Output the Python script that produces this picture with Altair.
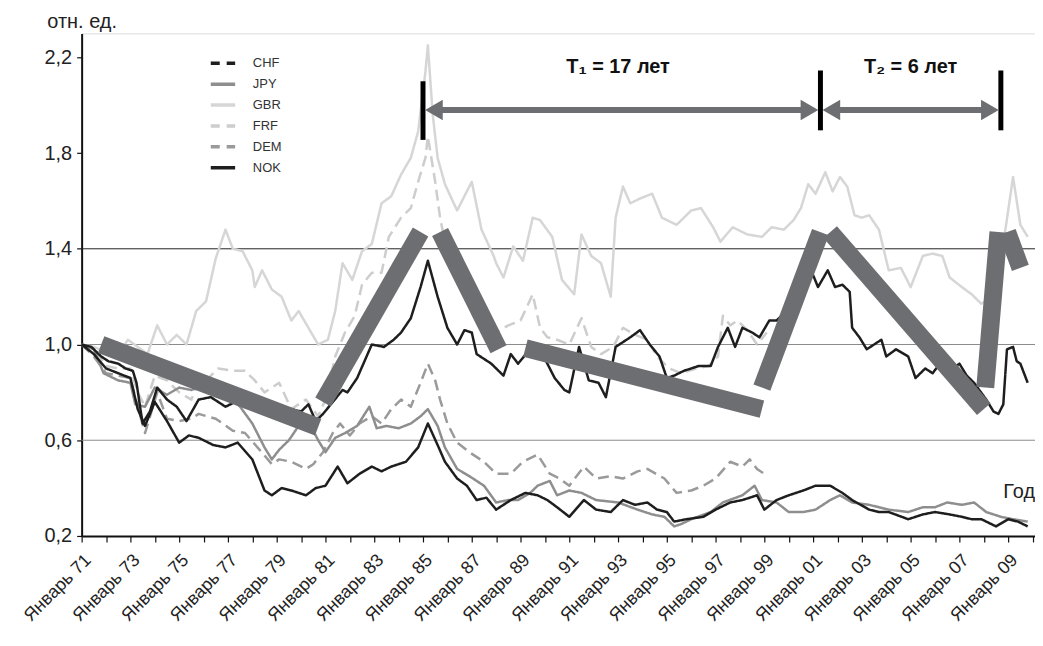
import altair as alt
import pandas as pd

FONT = "Liberation Sans"

series_names = ["GBR", "FRF", "DEM", "JPY", "CHF", "NOK"]
legend_order = ["CHF", "JPY", "GBR", "FRF", "DEM", "NOK"]
legend_colors = ["#1e1e1e", "#8e8e8e", "#d6d6d6", "#cdcdcd", "#9a9a9a", "#1e1e1e"]
plot_dash = [[1, 0], [1, 0], [1, 0], [11, 6], [11, 6], [1, 0]]
legend_dash = [[9, 7], [1, 0], [1, 0], [9, 7], [9, 7], [1, 0]]

chf = [(1971.0, 1.00), (1971.5, 0.96), (1972.0, 0.90), (1972.5, 0.88), (1973.0, 0.86), (1973.3, 0.73),
       (1973.6, 0.66), (1974.0, 0.76), (1974.5, 0.68), (1975.0, 0.59), (1975.4, 0.62), (1975.8, 0.61),
       (1976.4, 0.58), (1976.9, 0.57), (1977.4, 0.59), (1978.0, 0.52), (1978.5, 0.39), (1978.8, 0.37),
       (1979.2, 0.40), (1979.6, 0.39), (1980.2, 0.37), (1980.6, 0.40), (1981.0, 0.41), (1981.5, 0.49),
       (1981.9, 0.42), (1982.4, 0.46), (1982.9, 0.49), (1983.3, 0.47), (1983.7, 0.49), (1984.3, 0.51),
       (1984.8, 0.57), (1985.2, 0.67), (1985.6, 0.58), (1985.9, 0.51), (1986.4, 0.44), (1986.8, 0.41),
       (1987.2, 0.35), (1987.6, 0.36), (1988.0, 0.31), (1988.6, 0.35), (1989.2, 0.38), (1989.7, 0.37),
       (1990.1, 0.35), (1990.5, 0.32), (1991.0, 0.28), (1991.6, 0.35), (1992.1, 0.31), (1992.7, 0.30),
       (1993.2, 0.35), (1993.7, 0.33), (1994.2, 0.34), (1994.6, 0.31), (1995.0, 0.30), (1995.3, 0.26),
       (1995.8, 0.27), (1996.5, 0.28), (1997.0, 0.31), (1997.6, 0.34), (1998.1, 0.35), (1998.7, 0.37),
       (1999.0, 0.31), (1999.5, 0.35), (2000.0, 0.37), (2000.6, 0.39), (2001.1, 0.41), (2001.7, 0.41),
       (2002.2, 0.38), (2002.6, 0.35), (2003.3, 0.31), (2003.7, 0.30), (2004.1, 0.30), (2004.9, 0.27),
       (2005.5, 0.29), (2006.0, 0.30), (2006.6, 0.29), (2007.1, 0.28), (2007.5, 0.27), (2007.9, 0.27),
       (2008.5, 0.24), (2009.0, 0.27), (2009.4, 0.26), (2009.8, 0.24)]

nok = [(1971.0, 1.00), (1971.4, 0.99), (1971.8, 0.95), (1972.1, 0.93), (1972.5, 0.92), (1972.8, 0.90),
       (1973.1, 0.89), (1973.25, 0.84), (1973.5, 0.67), (1973.8, 0.72), (1974.1, 0.82), (1974.5, 0.77),
       (1974.9, 0.74), (1975.3, 0.68), (1975.8, 0.77), (1976.3, 0.78), (1976.9, 0.74), (1977.3, 0.76),
       (1977.7, 0.77), (1978.1, 0.74), (1978.5, 0.75), (1979.0, 0.72), (1979.6, 0.73), (1980.0, 0.72),
       (1980.3, 0.75), (1980.6, 0.68), (1980.9, 0.71), (1981.3, 0.76), (1981.7, 0.81), (1981.9, 0.80),
       (1982.3, 0.86), (1982.9, 1.00), (1983.4, 0.99), (1983.8, 1.02), (1984.1, 1.05), (1984.5, 1.11),
       (1984.9, 1.24), (1985.2, 1.35), (1985.6, 1.20), (1986.0, 1.07), (1986.4, 1.00), (1986.7, 1.06),
       (1987.0, 1.05), (1987.2, 0.96), (1987.8, 0.92), (1988.3, 0.87), (1988.6, 0.96), (1988.9, 0.92),
       (1989.3, 0.97), (1989.6, 1.00), (1990.0, 0.94), (1990.4, 0.86), (1990.8, 0.81), (1991.0, 0.80),
       (1991.4, 0.99), (1991.8, 0.85), (1992.2, 0.84), (1992.5, 0.78), (1992.9, 0.99), (1993.5, 1.03),
       (1993.9, 1.06), (1994.3, 1.00), (1994.7, 0.95), (1995.0, 0.86), (1995.3, 0.87), (1995.7, 0.89),
       (1996.3, 0.91), (1996.8, 0.91), (1997.1, 0.99), (1997.5, 1.07), (1997.8, 0.99), (1998.1, 1.07),
       (1998.5, 1.05), (1998.8, 1.03), (1999.2, 1.10), (1999.5, 1.10), (2000.0, 1.15), (2000.5, 1.24),
       (2001.0, 1.29), (2001.2, 1.24), (2001.6, 1.31), (2001.9, 1.24), (2002.2, 1.25), (2002.5, 1.22),
       (2002.6, 1.07), (2002.9, 1.03), (2003.2, 0.98), (2003.5, 1.00), (2003.8, 1.02), (2004.0, 0.95),
       (2004.4, 0.98), (2004.9, 0.95), (2005.2, 0.86), (2005.6, 0.90), (2005.9, 0.88), (2006.2, 0.92),
       (2006.6, 0.89), (2007.0, 0.92), (2007.3, 0.87), (2007.6, 0.84), (2008.1, 0.77), (2008.4, 0.72),
       (2008.6, 0.71), (2008.8, 0.75), (2008.95, 0.98), (2009.2, 0.99), (2009.35, 0.93), (2009.5, 0.92),
       (2009.8, 0.84)]

gbr = [(1971.0, 1.00), (1971.5, 0.99), (1972.0, 0.97), (1972.5, 0.96), (1972.9, 1.02), (1973.3, 0.99),
       (1973.7, 0.96), (1974.1, 1.08), (1974.5, 1.00), (1974.9, 1.04), (1975.3, 1.00), (1975.7, 1.14),
       (1976.1, 1.18), (1976.5, 1.36), (1976.9, 1.48), (1977.2, 1.40), (1977.6, 1.39), (1978.0, 1.31),
       (1978.1, 1.24), (1978.4, 1.31), (1978.8, 1.23), (1979.2, 1.20), (1979.6, 1.10), (1979.9, 1.14),
       (1980.3, 1.07), (1980.7, 1.00), (1981.1, 1.02), (1981.4, 1.14), (1981.7, 1.34), (1982.1, 1.27),
       (1982.5, 1.39), (1982.9, 1.42), (1983.3, 1.59), (1983.7, 1.62), (1984.1, 1.71), (1984.5, 1.78),
       (1984.8, 1.89), (1985.1, 2.14), (1985.2, 2.25), (1985.4, 1.96), (1985.6, 1.78), (1985.9, 1.67),
       (1986.4, 1.56), (1987.0, 1.68), (1987.4, 1.48), (1987.9, 1.37), (1988.0, 1.34), (1988.3, 1.28),
       (1988.7, 1.41), (1989.1, 1.35), (1989.5, 1.53), (1989.8, 1.52), (1990.3, 1.45), (1990.7, 1.27),
       (1991.2, 1.21), (1991.5, 1.46), (1991.9, 1.37), (1992.3, 1.34), (1992.7, 1.20), (1992.9, 1.53),
       (1993.2, 1.66), (1993.5, 1.59), (1993.9, 1.61), (1994.4, 1.63), (1994.8, 1.53), (1995.4, 1.50),
       (1996.0, 1.56), (1996.4, 1.57), (1996.9, 1.49), (1997.2, 1.43), (1997.7, 1.49), (1998.3, 1.46),
       (1998.9, 1.45), (1999.3, 1.49), (1999.8, 1.48), (2000.2, 1.52), (2000.5, 1.57), (2000.8, 1.67),
       (2001.1, 1.63), (2001.5, 1.72), (2001.8, 1.64), (2002.1, 1.70), (2002.4, 1.66), (2002.7, 1.54),
       (2003.0, 1.53), (2003.3, 1.54), (2003.7, 1.48), (2004.1, 1.31), (2004.6, 1.32), (2005.0, 1.24),
       (2005.5, 1.37), (2005.9, 1.38), (2006.3, 1.37), (2006.6, 1.28), (2007.1, 1.24), (2007.5, 1.21),
       (2007.9, 1.17), (2008.3, 1.20), (2008.6, 1.30), (2008.9, 1.49), (2009.2, 1.70), (2009.5, 1.50),
       (2009.8, 1.45)]

frf = [(1971.0, 1.00), (1971.5, 0.98), (1972.0, 0.91), (1972.5, 0.90), (1973.0, 0.90), (1973.3, 0.80),
       (1973.6, 0.74), (1974.0, 0.87), (1974.5, 0.85), (1975.0, 0.80), (1975.5, 0.77), (1975.8, 0.85),
       (1976.2, 0.86), (1976.6, 0.90), (1977.2, 0.89), (1977.7, 0.89), (1978.1, 0.85), (1978.5, 0.80),
       (1979.1, 0.84), (1979.6, 0.73), (1980.2, 0.77), (1980.7, 0.70), (1981.0, 0.77), (1981.4, 0.95),
       (1981.8, 1.05), (1982.2, 1.12), (1982.5, 1.25), (1982.9, 1.30), (1983.3, 1.30), (1983.6, 1.45),
       (1984.1, 1.53), (1984.5, 1.57), (1984.8, 1.68), (1985.1, 1.78), (1985.2, 1.87), (1985.5, 1.68),
       (1985.7, 1.53), (1985.8, 1.48), (1986.2, 1.33), (1986.6, 1.25), (1987.0, 1.15), (1987.5, 1.10),
       (1988.0, 1.05), (1988.5, 1.08), (1989.0, 1.10), (1989.5, 1.21), (1989.8, 1.07), (1990.1, 1.03),
       (1990.5, 1.02), (1991.0, 1.00), (1991.5, 1.11), (1991.9, 0.99), (1992.3, 0.96), (1992.8, 0.99),
       (1993.2, 1.07), (1993.7, 1.04), (1994.2, 1.02), (1994.6, 0.95), (1995.1, 0.90), (1995.6, 0.88),
       (1996.2, 0.90), (1996.7, 0.91), (1997.1, 0.95), (1997.3, 1.12), (1997.6, 1.08), (1997.9, 1.10),
       (1998.3, 1.06), (1998.7, 1.00), (1999.1, 1.05)]

dem = [(1971.0, 1.00), (1971.5, 0.95), (1972.0, 0.88), (1972.5, 0.87), (1973.0, 0.86), (1973.3, 0.74),
       (1973.6, 0.63), (1974.1, 0.80), (1974.5, 0.69), (1975.0, 0.68), (1975.5, 0.69), (1975.8, 0.71),
       (1976.5, 0.69), (1977.2, 0.64), (1977.7, 0.63), (1978.3, 0.56), (1978.8, 0.50), (1979.1, 0.52),
       (1979.6, 0.51), (1980.2, 0.48), (1980.5, 0.50), (1980.9, 0.55), (1981.3, 0.63), (1981.6, 0.67),
       (1982.0, 0.62), (1982.4, 0.67), (1982.9, 0.70), (1983.3, 0.67), (1983.7, 0.73), (1984.1, 0.77),
       (1984.5, 0.74), (1984.9, 0.84), (1985.2, 0.92), (1985.5, 0.85), (1985.7, 0.77), (1986.0, 0.67),
       (1986.4, 0.59), (1986.9, 0.55), (1987.5, 0.51), (1988.0, 0.46), (1988.6, 0.46), (1989.1, 0.51),
       (1989.7, 0.54), (1990.2, 0.46), (1990.6, 0.44), (1991.0, 0.41), (1991.6, 0.49), (1992.1, 0.44),
       (1992.7, 0.45), (1993.2, 0.44), (1993.8, 0.47), (1994.2, 0.48), (1994.9, 0.44), (1995.4, 0.38),
       (1996.0, 0.39), (1996.5, 0.41), (1997.0, 0.44), (1997.6, 0.51), (1998.1, 0.49), (1998.4, 0.52),
       (1998.7, 0.48), (1999.0, 0.46)]

jpy = [(1971.0, 1.00), (1971.5, 0.98), (1971.9, 0.88), (1972.5, 0.85), (1973.0, 0.84), (1973.2, 0.75),
       (1973.6, 0.74), (1974.0, 0.82), (1974.5, 0.79), (1975.0, 0.82), (1975.5, 0.81), (1976.0, 0.83),
       (1976.5, 0.81), (1977.0, 0.79), (1977.5, 0.74), (1978.0, 0.67), (1978.5, 0.57), (1978.8, 0.52),
       (1979.1, 0.56), (1979.5, 0.60), (1979.9, 0.66), (1980.3, 0.68), (1980.7, 0.60), (1981.0, 0.55),
       (1981.4, 0.61), (1981.8, 0.63), (1982.3, 0.66), (1982.8, 0.74), (1983.1, 0.65), (1983.5, 0.66),
       (1984.0, 0.65), (1984.5, 0.67), (1984.9, 0.70), (1985.2, 0.73), (1985.6, 0.66), (1985.9, 0.57),
       (1986.4, 0.48), (1986.9, 0.45), (1987.5, 0.41), (1988.0, 0.34), (1988.5, 0.35), (1988.9, 0.35),
       (1989.4, 0.38), (1989.7, 0.41), (1990.2, 0.43), (1990.5, 0.37), (1991.0, 0.39), (1991.5, 0.38),
       (1992.1, 0.35), (1993.0, 0.34), (1993.8, 0.31), (1994.4, 0.29), (1994.9, 0.28), (1995.3, 0.24),
       (1995.6, 0.25), (1996.0, 0.27), (1996.8, 0.30), (1997.3, 0.34), (1998.1, 0.37), (1998.6, 0.41),
       (1998.9, 0.35), (1999.5, 0.34), (2000.0, 0.30), (2000.6, 0.30), (2001.1, 0.31), (2001.7, 0.35),
       (2002.1, 0.37), (2002.6, 0.34), (2003.3, 0.33), (2004.1, 0.31), (2004.9, 0.30), (2005.5, 0.32),
       (2006.0, 0.32), (2006.5, 0.34), (2007.1, 0.33), (2007.6, 0.34), (2008.1, 0.30), (2008.7, 0.28),
       (2009.2, 0.27), (2009.8, 0.26)]

# thick trend segments: (start year, start value, end year, end value)
trend_segments = [(1971.8, 1.00, 1980.7, 0.655), (1980.9, 0.76, 1984.9, 1.47), (1985.7, 1.47, 1988.1, 0.98),
                  (1989.2, 0.985, 1998.9, 0.73), (1998.9, 0.82, 2001.3, 1.47), (2001.7, 1.47, 2008.0, 0.73),
                  (2008.06, 0.82, 2008.6, 1.47), (2008.96, 1.47, 2009.5, 1.32)]

marker_years = [1985.0, 2001.3, 2008.7]
marker_low = [1.855, 1.895, 1.895]
marker_high = [2.10, 2.145, 2.145]

arrow_from = [1985.0, 2001.3]
arrow_to = [2001.3, 2008.7]
arrow_level = 1.98

period_labels = ["T\u2081 = 17 лет", "T\u2082 = 6 лет"]
period_label_years = [1993.0, 2005.0]
period_label_level = 2.16

grid_values = [0.6, 1.0, 1.4]
y_ticks = [0.2, 0.6, 1.0, 1.4, 1.8, 2.2]
x_ticks = list(range(1971, 2011))

# ---------- tables ----------
series_data = {"GBR": gbr, "FRF": frf, "DEM": dem, "JPY": jpy, "CHF": chf, "NOK": nok}
rows = []
for name in series_names:
    for i, (t, v) in enumerate(series_data[name]):
        rows.append({"series": name, "t": t, "v": v, "i": i})
lines_df = pd.DataFrame(rows)

trend_rows = []
for k, (t0, v0, t1, v1) in enumerate(trend_segments):
    trend_rows.append({"seg": k, "t": t0, "v": v0, "i": 0})
    trend_rows.append({"seg": k, "t": t1, "v": v1, "i": 1})
trend_df = pd.DataFrame(trend_rows)

marker_df = pd.DataFrame({"t": marker_years, "v": marker_low, "hi": marker_high})
arrow_df = pd.DataFrame({"t": arrow_from, "b": arrow_to, "v": [arrow_level] * len(arrow_from)})
label_df = pd.DataFrame({"text": period_labels, "t": period_label_years, "v": [period_label_level] * 2})
grid_df = pd.DataFrame({"v": grid_values})
legend_df = pd.DataFrame({"series": legend_order})
god_df = pd.DataFrame({"text": ["Год"], "t": [2010.1], "v": [0.385]})

xscale = alt.Scale(domain=[1971, 2010.1], nice=False, zero=False)
yscale = alt.Scale(domain=[0.2, 2.3], nice=False, zero=False)

x_axis = alt.Axis(
    values=x_ticks,
    labelExpr="(datum.value - 1971) % 2 == 0 ? 'Январь ' + substring(toString(datum.value), 2, 4) : ''",
    labelAngle=315, labelAlign="right", labelBaseline="top", labelFontSize=18, labelFont=FONT,
    labelColor="#222", labelPadding=9, labelOverlap=False, labelBound=False, labelFlush=False,
    tickSize=6, tickColor="#111", tickWidth=1.2, domainColor="#111", domainWidth=2,
    grid=False, title=None,
)
y_axis = alt.Axis(
    values=y_ticks,
    labelExpr="replace(format(datum.value, '.1f'), '.', ',')",
    labelFontSize=20, labelFont=FONT, labelColor="#222", labelPadding=5,
    tickSize=5, tickColor="#111", tickWidth=1.2, domainColor="#111", domainWidth=2, grid=False,
    title="отн. ед.", titleAngle=0, titleX=0, titleY=-12, titleAlign="center", titleBaseline="middle",
    titleFontSize=20, titleFont=FONT, titleFontWeight="normal", titleColor="#222",
)

X = alt.X("t:Q", scale=xscale, axis=x_axis)
Y = alt.Y("v:Q", scale=yscale, axis=y_axis)

grid = alt.Chart(grid_df).mark_rule(strokeWidth=1).encode(
    y=Y,
    color=alt.condition("datum.v > 1.2", alt.value("#222222"), alt.value("#8a8a8a")),
)

lines = alt.Chart(lines_df).mark_line(strokeWidth=2.5, strokeJoin="round").encode(
    x=X,
    y=Y,
    color=alt.Color("series:N", scale=alt.Scale(domain=legend_order, range=legend_colors), legend=None),
    strokeDash=alt.StrokeDash("series:N", scale=alt.Scale(domain=legend_order, range=plot_dash), legend=None),
    detail="series:N",
    order="i:Q",
)

trend = alt.Chart(trend_df).mark_line(strokeWidth=18, strokeCap="butt", color="#6d6e71").encode(
    x=X, y=Y, detail="seg:N", order="i:Q",
)

markers = alt.Chart(marker_df).mark_rule(strokeWidth=5, color="#000000").encode(
    x=X, y=Y, y2="hi:Q",
)

shafts = alt.Chart(arrow_df).mark_rule(strokeWidth=6, color="#6d6e71", xOffset=12, x2Offset=-12).encode(
    x=X, x2="b:Q", y=Y,
)
heads_left = alt.Chart(arrow_df).mark_point(shape="triangle-left", filled=True, size=420, opacity=1,
                                             color="#6d6e71", xOffset=11).encode(
    x=X, y=Y,
)
heads_right = alt.Chart(arrow_df).mark_point(shape="triangle-right", filled=True, size=420, opacity=1,
                                              color="#6d6e71", xOffset=-11).encode(
    x=alt.X("b:Q", scale=xscale, axis=x_axis), y=Y,
)

labels = alt.Chart(label_df).mark_text(font=FONT, fontSize=20, fontWeight="bold", color="#111",
                                       align="center", baseline="middle").encode(
    x=X, y=Y, text="text:N",
)

god = alt.Chart(god_df).mark_text(font=FONT, fontSize=20, color="#222", align="right",
                                  baseline="middle").encode(
    x=X, y=Y, text="text:N",
)

legend_spec = alt.Legend(
    orient="none", legendX=128, legendY=16, title=None, symbolType="stroke", symbolSize=600,
    symbolStrokeWidth=3.5, labelFontSize=13, labelFont=FONT, labelColor="#333", labelOffset=16,
    rowPadding=-4, padding=0,
)
legend_layer = alt.Chart(legend_df).mark_line(strokeCap="butt", strokeWidth=3.5).encode(
    x=alt.value(0),
    y=alt.value(0),
    color=alt.Color("series:N", scale=alt.Scale(domain=legend_order, range=legend_colors), legend=legend_spec),
    strokeDash=alt.StrokeDash("series:N", scale=alt.Scale(domain=legend_order, range=legend_dash),
                              legend=legend_spec),
    detail="series:N",
)

chart = alt.layer(
    grid, lines, trend, markers, shafts, heads_left, heads_right, labels, god, legend_layer
).resolve_scale(
    color="independent", strokeDash="independent"
).properties(
    width=958, height=505,
    autosize=alt.AutoSizeParams(type="none"),
    padding={"left": 74, "top": 24, "right": 0, "bottom": 100},
).configure_view(
    strokeWidth=0
).configure(
    font=FONT
)

chart.save("out.html", embed_options={"renderer": "svg", "actions": False})
